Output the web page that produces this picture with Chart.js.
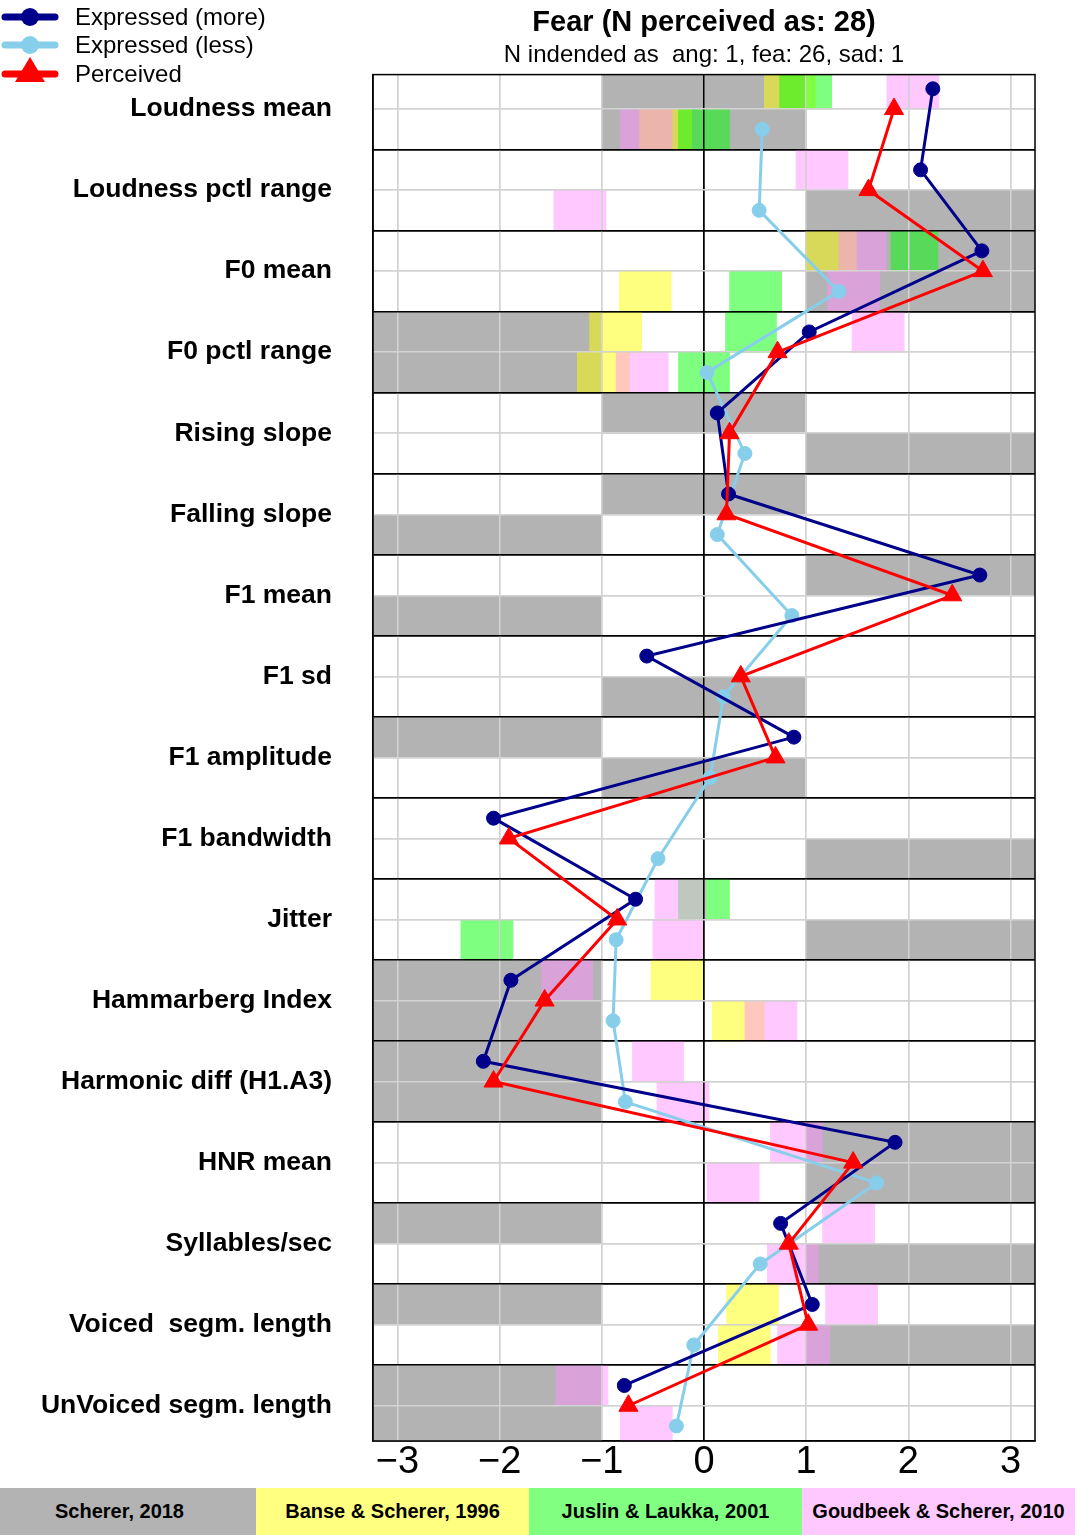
<!DOCTYPE html>
<html>
<head>
<meta charset="utf-8">
<script src="https://cdn.jsdelivr.net/npm/chart.js@4"></script>
<style>
  body { margin: 0; background: #fff; font-family: 'Liberation Sans', Arial, sans-serif; }
  #wrap { position: relative; width: 1084px; height: 1535px; overflow: hidden; }
  #chart { position: absolute; left: 0; top: 0; }
  .item { position: absolute; left: 0; width: 320px; height: 40px; }
  .item svg { position: absolute; left: 0; top: 0; }
  .item span { position: absolute; left: 75px; top: 6px; font-size: 24px; line-height: 28px; color: #000; }
  .sources { position: absolute; left: -17px; top: 1488px; height: 47px; display: flex; }
  .sources div { width: 273px; height: 47px; line-height: 47px; text-align: center; font-weight: bold; font-size: 20px; color: #000; }
</style>
</head>
<body>
<div id="wrap">
  <canvas id="chart" width="1084" height="1488"></canvas>

  <div class="item" style="top:-3px">
    <svg width="70" height="40"><line x1="5" y1="20" x2="55" y2="20" stroke="#00008B" stroke-width="7" stroke-linecap="round"/><circle cx="30" cy="20" r="9" fill="#00008B"/></svg>
    <span>Expressed (more)</span>
  </div>
  <div class="item" style="top:25px">
    <svg width="70" height="40"><line x1="5" y1="20" x2="55" y2="20" stroke="#87CEEB" stroke-width="7" stroke-linecap="round"/><circle cx="30" cy="20" r="9" fill="#87CEEB"/></svg>
    <span>Expressed (less)</span>
  </div>
  <div class="item" style="top:54px">
    <svg width="70" height="40"><line x1="5" y1="20" x2="55" y2="20" stroke="#FF0000" stroke-width="7" stroke-linecap="round"/><polygon points="30,3 45,28 15,28" fill="#FF0000"/></svg>
    <span>Perceived</span>
  </div>

  <div class="sources">
    <div style="background:#B3B3B3">Scherer, 2018</div>
    <div style="background:#FFFF80">Banse &amp; Scherer, 1996</div>
    <div style="background:#80FF80">Juslin &amp; Laukka, 2001</div>
    <div style="background:#FFC8FF">Goudbeek &amp; Scherer, 2010</div>
  </div>
</div>

<script>
Chart.defaults.font.family = "'Liberation Sans', Arial, sans-serif"
Chart.defaults.color = '#000'

const features = ['Loudness mean', 'Loudness pctl range', 'F0 mean', 'F0 pctl range',
  'Rising slope', 'Falling slope', 'F1 mean', 'F1 sd', 'F1 amplitude', 'F1 bandwidth',
  'Jitter', 'Hammarberg Index', 'Harmonic diff (H1.A3)', 'HNR mean', 'Syllables/sec',
  'Voiced  segm. length', 'UnVoiced segm. length']

const expressedMore = [2.24, 2.12, 2.72, 1.03, 0.13, 0.24, 2.70, -0.56, 0.88, -2.06, -0.67, -1.89, -2.16, 1.87, 0.75, 1.06, -0.78]
const expressedLess = [0.57, 0.54, 1.32, 0.03, 0.40, 0.13, 0.86, 0.19, 0.06, -0.45, -0.86, -0.89, -0.77, 1.69, 0.55, -0.10, -0.27]
const perceived = [1.86, 1.61, 2.73, 0.72, 0.25, 0.22, 2.43, 0.36, 0.70, -1.91, -0.85, -1.56, -2.06, 1.46, 0.83, 1.02, -0.74]

// ranges per feature: [more, less]
const scherer2018 = [
  [[-1, 1], [-1, 1]], [null, [1, 3.5]], [[1, 3.5], [1, 3.5]], [[-3.5, -1], [-3.5, -1]],
  [[-1, 1], [1, 3.5]], [[-1, 1], [-3.5, -1]], [[1, 3.5], [-3.5, -1]], [null, [-1, 1]],
  [[-3.5, -1], [-1, 1]], [null, [1, 3.5]], [null, [1, 3.5]], [[-3.5, -1], [-3.5, -1]],
  [[-3.5, -1], [-3.5, -1]], [[1, 3.5], [1, 3.5]], [[-3.5, -1], [1, 3.5]], [[-3.5, -1], [1, 3.5]],
  [[-3.5, -1], [-3.5, -1]]
]
const banse1996 = [
  [[0.59, 1.09], [-0.63, -0.12]], [null, null], [[0.99, 1.49], [-0.83, -0.32]], [[-1.12, -0.61], [-1.24, -0.73]],
  [null, null], [null, null], [null, null], [null, null],
  [null, null], [null, null], [null, null], [[-0.52, 0.0], [0.08, 0.59]],
  [null, null], [null, null], [null, null], [[0.22, 0.73], [0.14, 0.65]],
  [null, null]
]
const juslin2001 = [
  [[0.74, 1.25], [-0.25, 0.25]], [null, null], [[1.83, 2.29], [0.25, 0.76]], [[0.21, 0.71], [-0.25, 0.25]],
  [null, null], [null, null], [null, null], [null, null],
  [null, null], [null, null], [[-0.25, 0.25], [-2.38, -1.87]], [null, null],
  [null, null], [null, null], [null, null], [null, null],
  [null, null]
]
const goudbeek2010 = [
  [[1.79, 2.30], [-0.82, -0.31]], [[0.90, 1.41], [-1.47, -0.96]], [[1.32, 1.78], [1.21, 1.72]], [[1.45, 1.96], [-0.86, -0.35]],
  [null, null], [null, null], [null, null], [null, null],
  [null, null], [null, null], [[-0.48, 0.02], [-0.50, 0.0]], [[-1.59, -1.09], [0.40, 0.91]],
  [[-0.70, -0.20], [-0.46, 0.05]], [[0.65, 1.16], [0.03, 0.54]], [[1.16, 1.67], [0.62, 1.12]], [[1.19, 1.70], [0.72, 1.23]],
  [[-1.45, -0.94], [-0.82, -0.31]]
]
const xTicks = [-3, -2, -1, 0, 1, 2, 3]

// each feature takes two sub-rows on the y axis (more on top, less below)
function rangeBars(src) {
  const out = []
  src.forEach((pair, k) => pair.forEach((r, s) => { if (r) out.push({ x: r, y: 2 * k + s + 0.5 }) }))
  return out
}
const pts = (vals, off) => vals.map((v, k) => ({ x: v, y: 2 * k + off }))

const barSet = (label, src, color, order) => ({
  type: 'bar', label, data: rangeBars(src), backgroundColor: color,
  borderWidth: 0, grouped: false, barPercentage: 1, categoryPercentage: 1, order
})
const lineSet = (label, data, color, style, radius, order) => ({
  type: 'line', label, data, borderColor: color, backgroundColor: color, borderWidth: 3,
  pointStyle: style, pointRadius: radius, pointBackgroundColor: color, pointBorderColor: color,
  pointBorderWidth: 1, tension: 0, order
})

// grid and frame go on top of the shaded ranges but under the lines
let gridDone = false
const gridOverBars = {
  id: 'gridOverBars',
  beforeDatasetsDraw() { gridDone = false },
  beforeDatasetDraw(chart, args) {
    if (args.meta.type !== 'line' || gridDone) return
    gridDone = true
    chart.scales.x.drawGrid(chart.chartArea)
    chart.scales.y.drawGrid(chart.chartArea)
    const a = chart.chartArea, c = chart.ctx
    c.save()
    c.strokeStyle = '#000'
    c.lineWidth = 1.5
    c.strokeRect(a.left, a.top, a.right - a.left, a.bottom - a.top)
    c.restore()
  }
}

new Chart(document.getElementById('chart'), {
  type: 'bar',
  data: {
    datasets: [
      lineSet('Perceived', pts(perceived, 1), '#FF0000', 'triangle', 11, 0),
      lineSet('Expressed (more)', pts(expressedMore, 0.5), '#00008B', 'circle', 7, 1),
      lineSet('Expressed (less)', pts(expressedLess, 1.5), '#87CEEB', 'circle', 7, 2),
      barSet('Goudbeek & Scherer, 2010', goudbeek2010, 'rgba(255,145,255,0.5)', 7),
      barSet('Juslin & Laukka, 2001', juslin2001, 'rgba(0,255,0,0.5)', 8),
      barSet('Banse & Scherer, 1996', banse1996, 'rgba(255,255,0,0.5)', 9),
      barSet('Scherer, 2018', scherer2018, '#B3B3B3', 10)
    ]
  },
  options: {
    indexAxis: 'y',
    responsive: false,
    animation: false,
    events: [],
    layout: { padding: { left: 0, right: 49, top: 0, bottom: 0 } },
    plugins: {
      legend: { display: false },
      tooltip: { enabled: false },
      title: {
        display: true, text: 'Fear (N perceived as: 28)', fullSize: false,
        font: { size: 29, weight: 'bold' }, padding: { top: 6, bottom: 0 }
      },
      subtitle: {
        display: true, text: 'N indended as  ang: 1, fea: 26, sad: 1', fullSize: false,
        font: { size: 24 }, color: '#000', padding: { top: 0, bottom: 5 }
      }
    },
    scales: {
      x: {
        type: 'linear', min: -3.24, max: 3.24, offset: false,
        afterBuildTicks: s => { s.ticks = xTicks.map(v => ({ value: v })) },
        afterFit: s => { s.height = 47 },
        ticks: {
          callback: v => (v < 0 ? '\u2212' + Math.abs(v) : String(v)),
          font: { size: 38, lineHeight: 1 }, padding: 3, autoSkip: false, maxRotation: 0
        },
        grid: { offset: false, color: c => (c.tick && c.tick.value === 0 ? '#000' : '#d3d3d3'), lineWidth: 1.5, drawTicks: false },
        border: { display: true, color: '#000', width: 1.5 }
      },
      y: {
        type: 'linear', reverse: true, min: 0.15, max: 33.87, offset: false,
        afterBuildTicks: s => {
          s.ticks = []
          for (let i = 1; i <= 33; i++) s.ticks.push({ value: i })
        },
        afterFit: s => {
          s.width = 373
          s.paddingTop = 0
          s.paddingBottom = 0
        },
        ticks: {
          callback: v => (v % 2 === 1 ? features[(v - 1) / 2] : ''),
          font: { size: 26.5, weight: 'bold' }, padding: 41, autoSkip: false
        },
        grid: { offset: false, color: c => (c.tick && c.tick.value % 2 === 0 ? '#000' : '#d3d3d3'), lineWidth: 1.5, drawTicks: false },
        border: { display: true, color: '#000', width: 1.5 }
      }
    }
  },
  plugins: [gridOverBars]
})
</script>
</body>
</html>
